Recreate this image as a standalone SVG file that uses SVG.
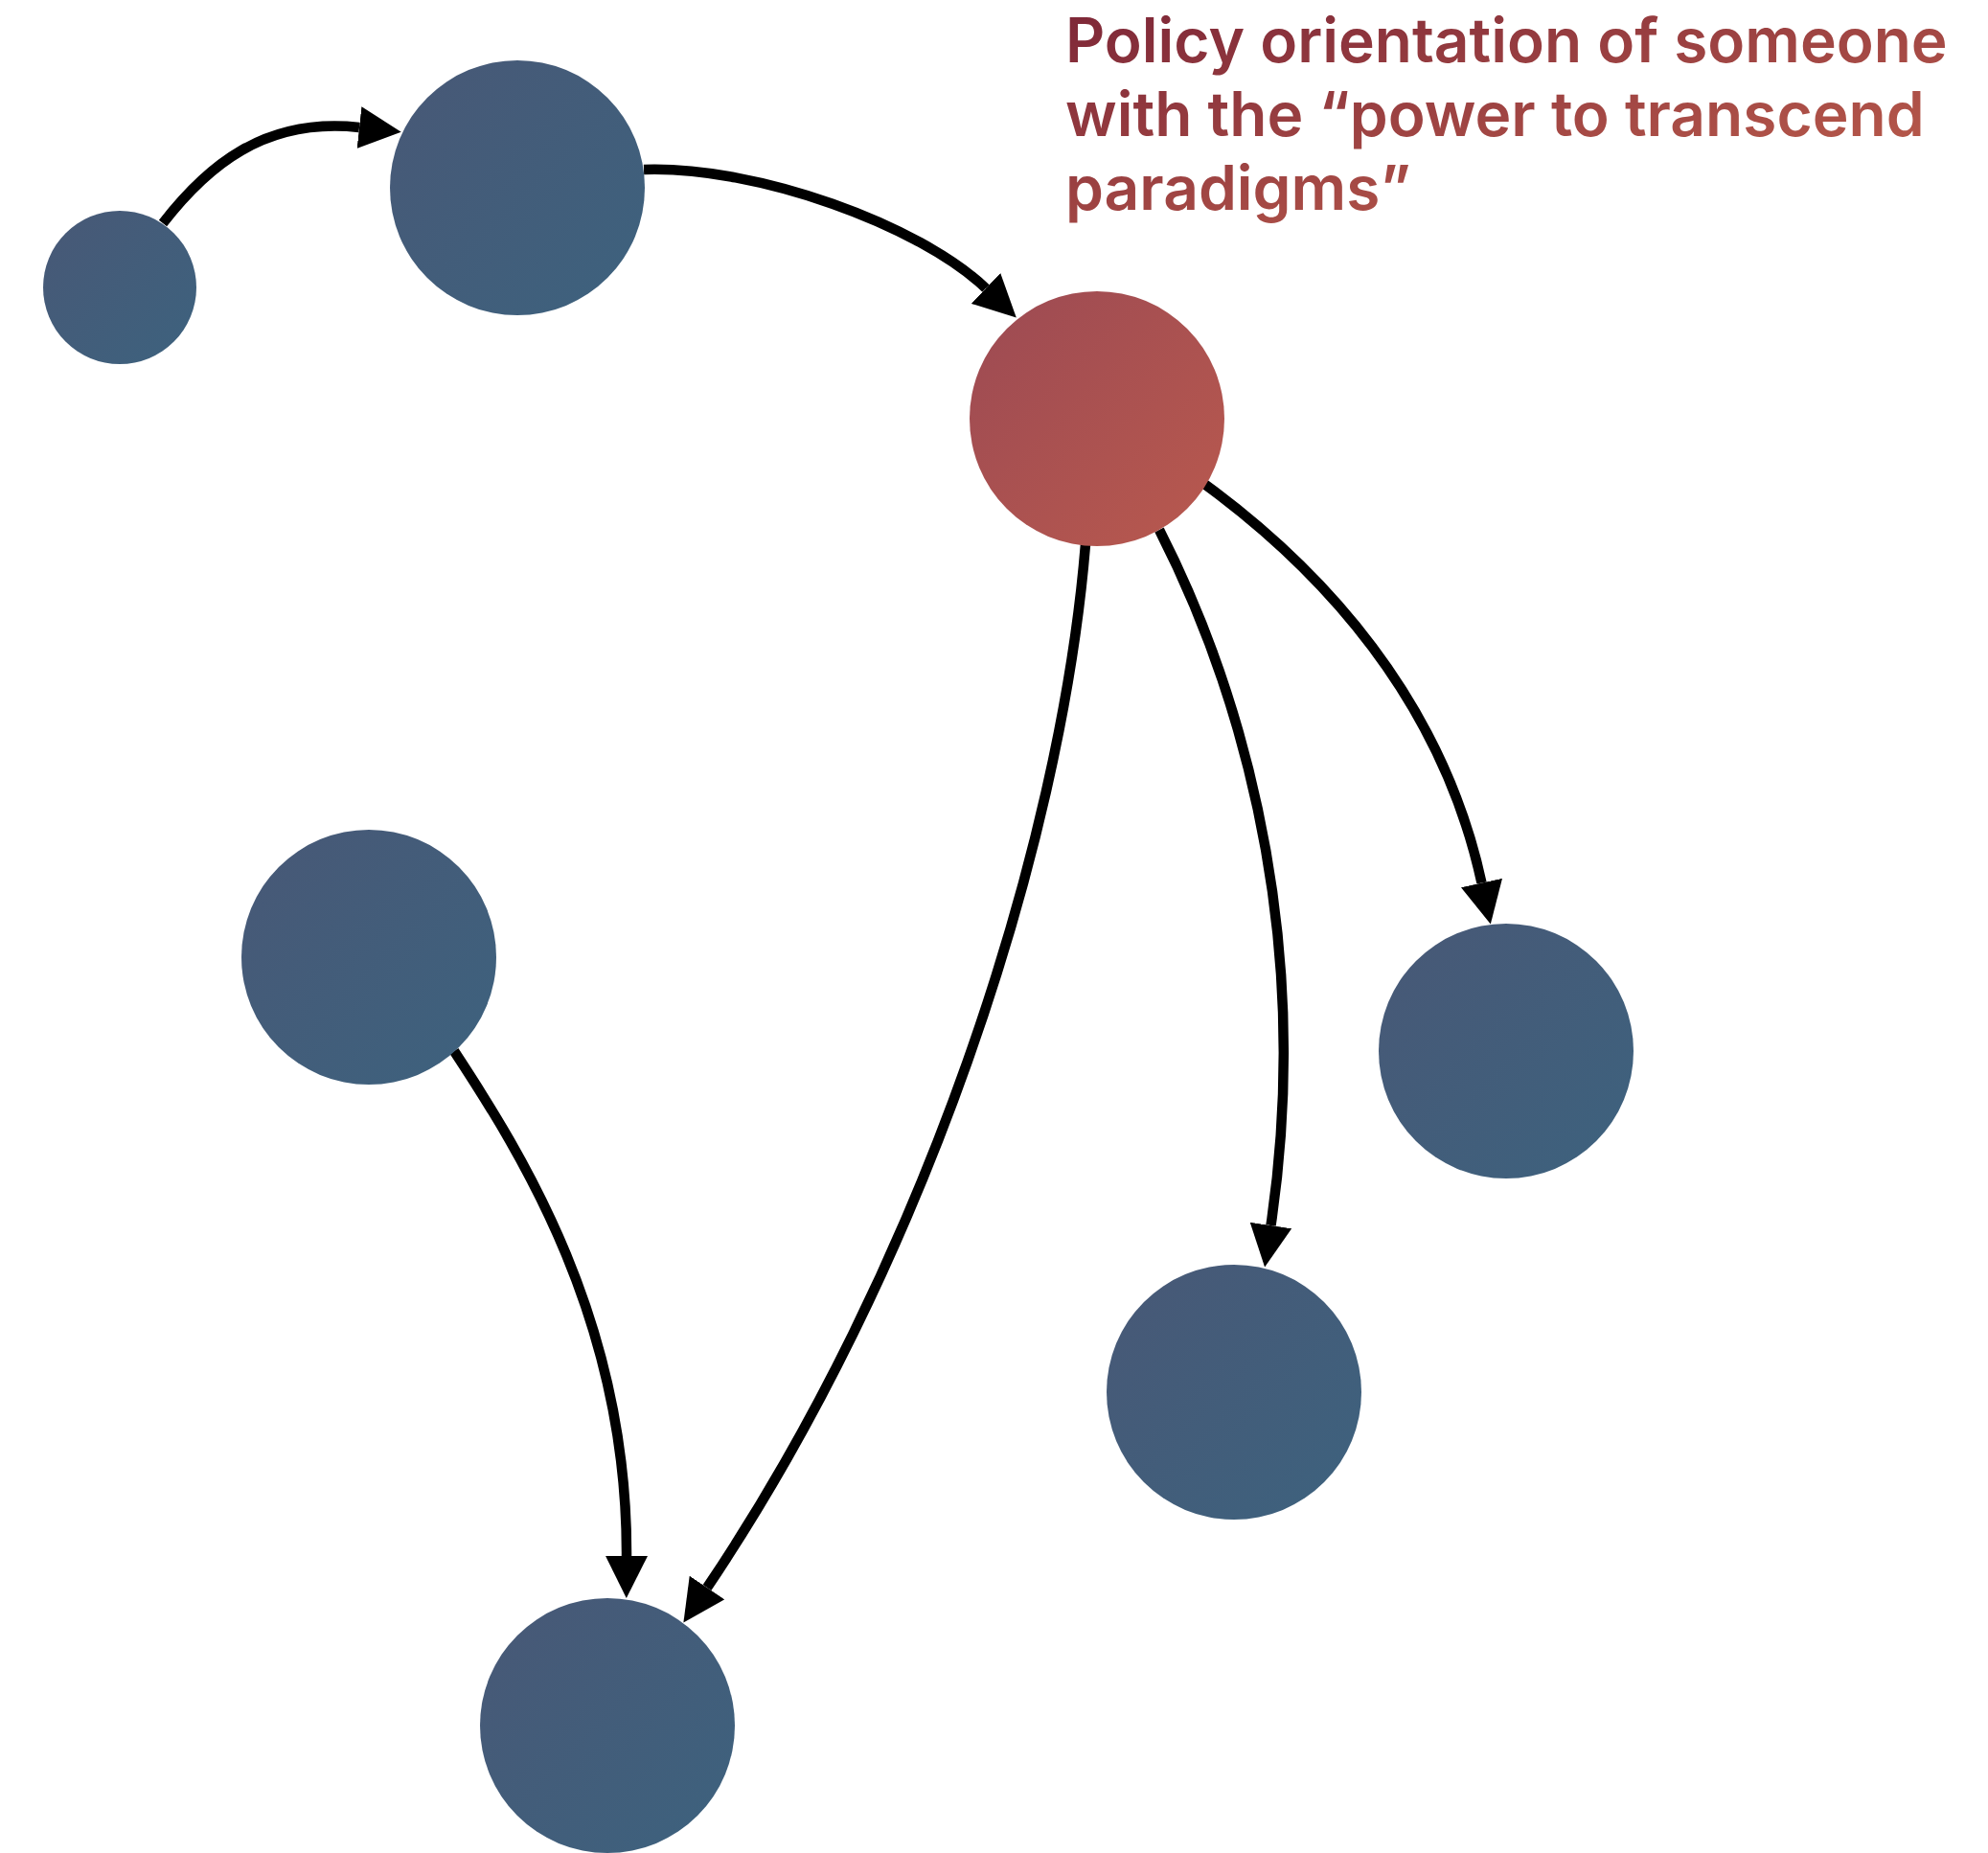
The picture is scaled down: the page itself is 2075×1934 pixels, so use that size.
<svg xmlns="http://www.w3.org/2000/svg" width="2075" height="1934" viewBox="0 0 2075 1934">
  <defs>
    <linearGradient id="gBlue" x1="0" y1="0" x2="1" y2="1">
      <stop offset="0" stop-color="#485876"/>
      <stop offset="1" stop-color="#3d627e"/>
    </linearGradient>
    <linearGradient id="gRed" x1="0" y1="0" x2="1" y2="1">
      <stop offset="0" stop-color="#9c4a53"/>
      <stop offset="1" stop-color="#b9594e"/>
    </linearGradient>
    <linearGradient id="gText" x1="0" y1="0" x2="1" y2="1">
      <stop offset="0" stop-color="#7c2637"/>
      <stop offset="1" stop-color="#c4644f"/>
    </linearGradient>
    <marker id="arrow" markerUnits="userSpaceOnUse" markerWidth="44" markerHeight="44" refX="0" refY="22" orient="auto" viewBox="0 0 44 44">
      <path d="M0,0 L44,22 L0,44 Z" fill="#000"/>
    </marker>
  </defs>
  <style>
    .node-blue { fill: url(#gBlue); }
    .node-red { fill: url(#gRed); }
    .edge { fill: none; stroke: #000; stroke-width: 10.5; marker-end: url(#arrow); }
    .label { font-family: Inter, "Noto Sans", "Liberation Sans", sans-serif; font-weight: 600; font-size: 64px; fill: url(#gText); }
  </style>
  <rect width="2075" height="1934" fill="#fff"/>
  <g id="connectors">
    <path class="edge" d="M170,233 C215,175 275,122 375,133"/>
    <path class="edge" d="M672,177 C790,173 960,235 1029,301"/>
    <path class="edge" d="M1133,568 C1107,888 962,1325 738,1657"/>
    <path class="edge" d="M474,1097 C545,1205 655,1380 654,1624"/>
    <path class="edge" d="M1210,553 C1280,690 1375,950 1326.5,1279"/>
    <path class="edge" d="M1257,505 C1380,595 1505,730 1546.5,921.5"/>
  </g>
  <g id="node-1"><circle class="node-blue" cx="125" cy="300" r="80"/></g>
  <g id="node-2"><circle class="node-blue" cx="540" cy="196" r="133"/></g>
  <g id="node-3"><circle class="node-red" cx="1145" cy="437" r="133"/></g>
  <g id="node-4"><circle class="node-blue" cx="385" cy="999" r="133"/></g>
  <g id="node-5"><circle class="node-blue" cx="1572" cy="1097" r="133"/></g>
  <g id="node-6"><circle class="node-blue" cx="1288" cy="1453" r="133"/></g>
  <g id="node-7"><circle class="node-blue" cx="634" cy="1801" r="133"/></g>
  <g id="label">
    <text class="label">
      <tspan x="1112" y="65">Policy orientation of someone</tspan>
      <tspan x="1112" y="142">with the “power to transcend</tspan>
      <tspan x="1112" y="219">paradigms”</tspan>
    </text>
  </g>
</svg>
